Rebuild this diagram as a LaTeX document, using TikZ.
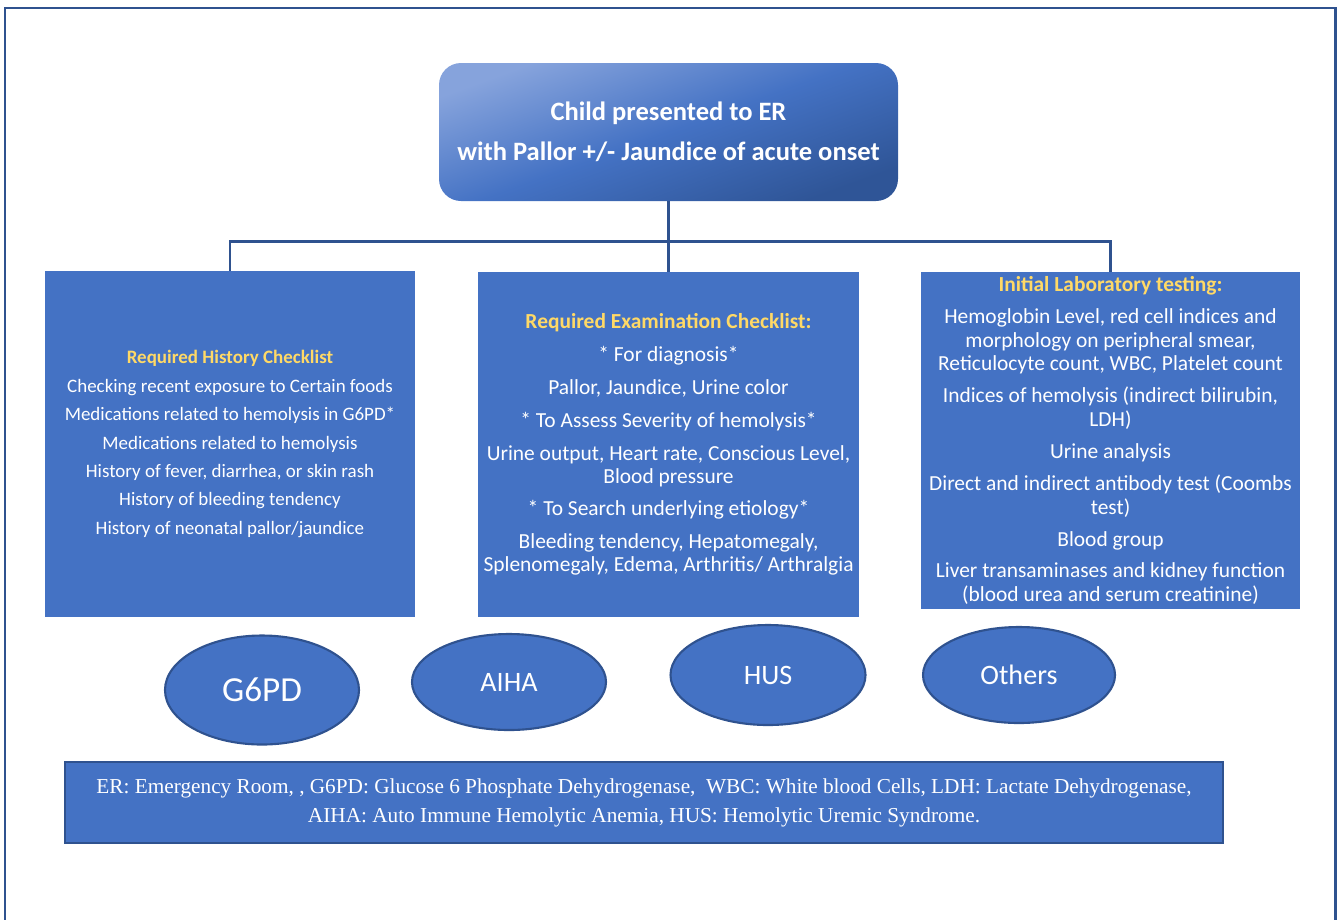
\documentclass[tikz,border=0pt]{standalone}
\usepackage{fontspec}
\setmainfont{Carlito}
\newfontfamily\legendfont{Liberation Serif}
\usepackage{xcolor}
\usetikzlibrary{shapes.geometric}

\definecolor{boxblue}{HTML}{4472C4}
\definecolor{edgeblue}{HTML}{2F528F}
\definecolor{titleyellow}{HTML}{FFD966}
\definecolor{toplight}{HTML}{86A3DC}
\definecolor{topdark}{HTML}{2F5597}

\begin{document}
\begin{tikzpicture}[
  checkbox/.style={fill=boxblue,text=white,align=center,inner sep=0pt},
  disease/.style={ellipse,draw=edgeblue,line width=1.2pt,fill=boxblue,text=white,inner sep=0pt},
  link/.style={draw=edgeblue,line width=1.7pt}
]
\useasboundingbox (0,0) rectangle (26.8,-18.38);
\draw[edgeblue,line width=1.7pt] (0.10,-18.6) -- (0.10,-0.16) -- (26.70,-0.16) -- (26.70,-18.6);

% start box
\node[rounded corners=0.44cm,top color=toplight,bottom color=topdark,middle color=boxblue,shading angle=20,
      minimum width=9.18cm,minimum height=2.76cm,text=white,align=center,
      font=\fontsize{15.1}{22.7}\selectfont\bfseries] (start) at (13.37,-2.64)
  {Child presented to ER\\ with Pallor +/- Jaundice of acute onset};

% three checklists
\node[checkbox,minimum width=7.4cm,minimum height=6.92cm,font=\fontsize{10.8}{16.2}\selectfont] (history) at (4.60,-8.88)
  {\textcolor{titleyellow}{\bfseries Required History Checklist}\\
   Checking recent exposure to Certain foods\\
   Medications related to hemolysis in G6PD*\\
   Medications related to hemolysis\\
   History of fever, diarrhea, or skin rash\\
   History of bleeding tendency\\
   History of neonatal pallor/jaundice};

\node[checkbox,minimum width=7.62cm,minimum height=6.9cm,font=\fontsize{12.2}{13}\selectfont] (exam) at (13.37,-8.89)
  {\textcolor{titleyellow}{\bfseries Required Examination Checklist:}\\[5.7pt]
   * For diagnosis*\\[5.7pt]
   Pallor, Jaundice, Urine color\\[5.7pt]
   * To Assess Severity of hemolysis*\\[5.7pt]
   Urine output, Heart rate, Conscious Level,\\
   Blood pressure\\[5.7pt]
   * To Search underlying etiology*\\[5.7pt]
   Bleeding tendency, Hepatomegaly,\\
   Splenomegaly, Edema, Arthritis/ Arthralgia};

\node[checkbox,minimum width=7.58cm,minimum height=6.74cm,font=\fontsize{12.2}{13.6}\selectfont] (labs) at (22.21,-8.81)
  {\textcolor{titleyellow}{\bfseries Initial Laboratory testing:}\\[4.5pt]
   Hemoglobin Level, red cell indices and\\
   morphology on peripheral smear,\\
   Reticulocyte count, WBC, Platelet count\\[4.5pt]
   Indices of hemolysis (indirect bilirubin,\\
   LDH)\\[4.5pt]
   Urine analysis\\[4.5pt]
   Direct and indirect antibody test (Coombs\\
   test)\\[4.5pt]
   Blood group\\[4.5pt]
   Liver transaminases and kidney function\\
   (blood urea and serum creatinine)};

% connectors
\coordinate (split) at (13.37,-4.82);
\draw[link] (start.south) -- (exam.north);
\draw[link] (history.north) |- (split) -| (labs.north);

% possible causes
\node[disease,minimum width=3.88cm,minimum height=2.18cm,font=\fontsize{20}{24}\selectfont] (g6pd) at (5.24,-13.80) {G6PD};
\node[disease,minimum width=3.88cm,minimum height=1.92cm,font=\fontsize{16}{20}\selectfont] (aiha) at (10.18,-13.64) {AIHA};
\node[disease,minimum width=3.90cm,minimum height=2.00cm,font=\fontsize{16}{20}\selectfont] (hus) at (15.36,-13.50) {HUS};
\node[disease,minimum width=3.84cm,minimum height=1.92cm,font=\fontsize{16}{20}\selectfont] (others) at (20.38,-13.50) {Others};

% abbreviations
\node[checkbox,draw=edgeblue,line width=1.5pt,minimum width=23.16cm,minimum height=1.62cm,
      font=\legendfont\fontsize{12.1}{16.4}\selectfont] (abbrev) at (12.88,-16.05)
  {ER: Emergency Room, , G6PD: Glucose 6 Phosphate Dehydrogenase,\ \ WBC: White blood Cells, LDH: Lactate Dehydrogenase,\\
   AIHA: Auto Immune Hemolytic Anemia, HUS: Hemolytic Uremic Syndrome.};
\end{tikzpicture}
\end{document}
